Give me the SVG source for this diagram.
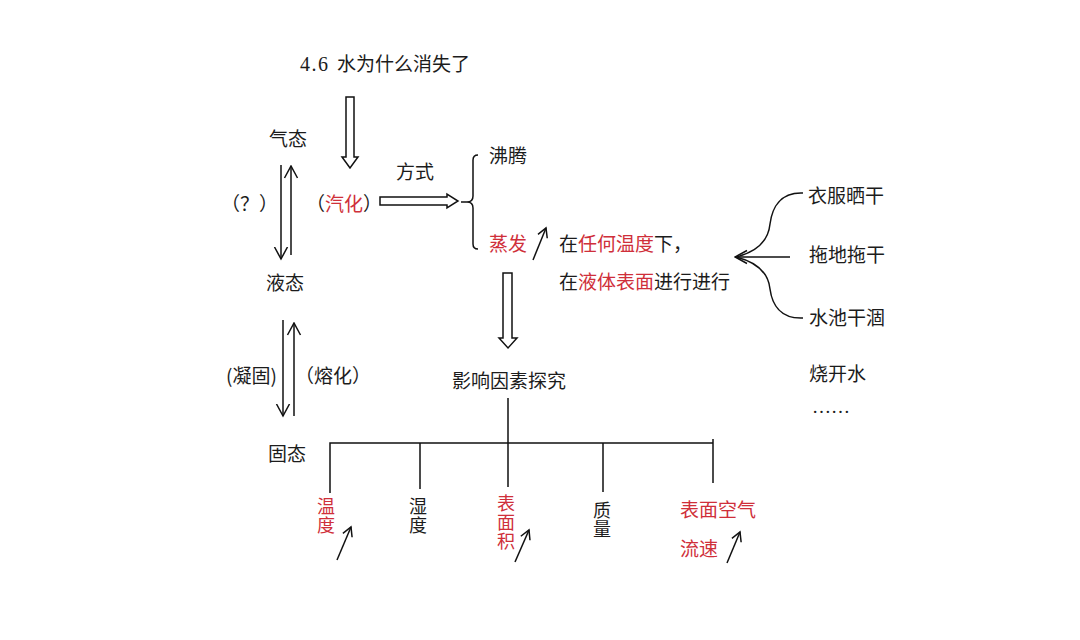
<svg xmlns="http://www.w3.org/2000/svg" width="1080" height="640" viewBox="0 0 1080 640">
<style>
text{font-family:"Noto Sans CJK SC","Liberation Sans",sans-serif;font-size:19px;fill:#1c1c1c}
.r{fill:#cf2f3a}
.lat{font-family:"Liberation Serif",serif}
.v{font-size:18px;writing-mode:vertical-rl;letter-spacing:1px}
.ln{stroke:#111;stroke-width:1.5;fill:none}
.blk{stroke:#111;stroke-width:1.5;fill:#fff;stroke-linejoin:miter}
.ar{marker-end:url(#head)}
.sm{marker-end:url(#headSm)}
</style>
<defs>
<marker id="head" viewBox="0 0 14 16" refX="12.5" refY="8" markerWidth="14" markerHeight="16" markerUnits="userSpaceOnUse" orient="auto">
<path d="M0.5,1.5 L12.5,8 L0.5,14.5" fill="none" stroke="#111" stroke-width="1.5"/>
</marker>
<marker id="headSm" viewBox="0 0 12 12" refX="10" refY="6" markerWidth="12" markerHeight="12" markerUnits="userSpaceOnUse" orient="auto">
<path d="M1,1 L10,6 L1,11" fill="none" stroke="#111" stroke-width="1.5"/>
</marker>
</defs>
<rect width="1080" height="640" fill="#fff"/>

<g id="title"><text x="300" y="71"><tspan class="lat" font-size="20" letter-spacing="1.5">4.6</tspan><tspan x="337">水为什么消失了</tspan></text></g>
<g id="gas"><text x="269" y="146">气态</text></g>
<g id="q"><text x="221" y="211">（？）</text></g>
<g id="vaporize"><text x="306" y="211">（<tspan class="r">汽化</tspan>）</text></g>
<g id="way"><text x="396" y="179">方式</text></g>
<g id="boil"><text x="489" y="163">沸腾</text></g>
<g id="evap"><text x="489" y="251" class="r">蒸发</text></g>
<g id="evap-desc">
<text x="559" y="251">在<tspan class="r">任何温度</tspan>下，</text>
<text x="559" y="289">在<tspan class="r">液体表面</tspan>进行进行</text>
</g>
<g id="liquid"><text x="266" y="290">液态</text></g>
<g id="freeze"><text x="226" y="383">(凝固)</text></g>
<g id="melt"><text x="295" y="383">（熔化）</text></g>
<g id="solid"><text x="268" y="461">固态</text></g>
<g id="factors"><text x="452" y="388">影响因素探究</text></g>

<g id="f-temp"><text class="r v" x="326" y="497">温度</text></g>
<g id="f-humid"><text class="v" x="418" y="497">湿度</text></g>
<g id="f-area"><text class="r v" x="506" y="494">表面积</text></g>
<g id="f-mass"><text class="v" x="602" y="501">质量</text></g>
<g id="f-air"><text class="r" x="680" y="517">表面空气</text><text class="r" x="680" y="556">流速</text></g>

<g id="ex1"><text x="808" y="203">衣服晒干</text></g>
<g id="ex2"><text x="809" y="262">拖地拖干</text></g>
<g id="ex3"><text x="809" y="325">水池干涸</text></g>
<g id="ex4"><text x="809" y="381">烧开水</text></g>
<g id="ex5"><text class="lat" x="812" y="413">……</text></g>

<g id="connectors">
<polygon class="blk" points="346,97 354,97 354,157 358,157 350,168 342,157 346,157"/>
<polygon class="blk" points="380,197 447,197 447,194 458,201 447,208 447,205 380,205"/>
<polygon class="blk" points="503,273 512,273 512,338 517,338 508,348 499,338 503,338"/>
<path class="ln" d="M478,155 Q473,155 473,160 V196 Q473,202 467,202 H461 M467,202 Q473,202 473,208 V244 Q473,249 478,249"/>

<line class="ln ar" x1="281" y1="165" x2="281" y2="259"/>
<line class="ln ar" x1="291" y1="255" x2="291" y2="166"/>
<line class="ln ar" x1="283" y1="320" x2="283" y2="416"/>
<line class="ln ar" x1="294" y1="416" x2="294" y2="323"/>

<line class="ln sm" x1="533" y1="260" x2="546" y2="228"/>
<line class="ln sm" x1="337" y1="560" x2="351" y2="527"/>
<line class="ln sm" x1="515" y1="562" x2="529" y2="530"/>
<line class="ln sm" x1="727" y1="563" x2="740" y2="532"/>

<line class="ln ar" x1="790" y1="257" x2="735" y2="257"/>
<path class="ln" d="M803,193 C780,192 772,208 770,224 C768,244 752,253 736,257"/>
<path class="ln" d="M803,318 C780,319 772,304 770,289 C768,270 752,261 736,257"/>

<path class="ln" d="M508,398 V487 M330,493 V443 H713 M420,443 V489 M603,443 V492 M713,439 V483"/>
</g>
</svg>
